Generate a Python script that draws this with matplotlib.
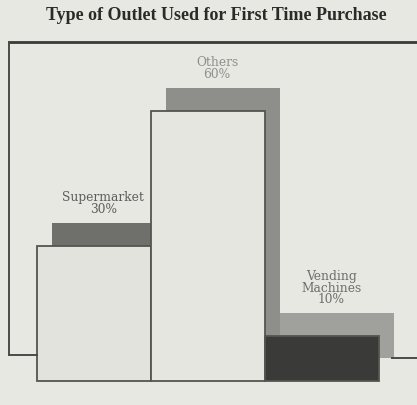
import matplotlib.pyplot as plt
from matplotlib.lines import Line2D

categories = ['Supermarket', 'Others', 'Vending\nMachines']
shares = [30, 60, 10]

front_colors = ['#e3e3dd', '#e6e6e0', '#3a3a38']
back_colors = ['#6f6f6b', '#8e8e8a', '#a0a09c']
label_colors = ['#5e5e5c', '#8e8e8c', '#6e6e6c']

BG = '#e8e8e2'
DX, DY = 0.13, 5.0   # offset of the raised back face

fig = plt.figure(figsize=(4.17, 4.05), dpi=100, facecolor=BG)
ax = fig.add_axes([0, 0, 1, 1])
ax.set_facecolor(BG)
ax.set_xlim(-0.825, 2.833)
ax.set_ylim(-5.4, 84.6)
ax.axis('off')

# frame around the plot area (open on the right)
fw = dict(color='#4a4a48', lw=1.4, transform=fig.transFigure)
fig.add_artist(Line2D([9/417, 1.0], [1-42/405, 1-42/405], lw=2.0, color='#3a3a38', transform=fig.transFigure))
fig.add_artist(Line2D([9/417, 9/417], [1-42/405, 1-355/405], **fw))
fig.add_artist(Line2D([9/417, 37/417], [1-355/405, 1-355/405], **fw))
fig.add_artist(Line2D([392/417, 1.0], [1-358/405, 1-358/405], **fw))

x = range(len(categories))
# back faces first (shifted up and right), then the front bars over them
ax.bar([i + DX for i in x], shares, width=1.0, bottom=DY,
       color=back_colors, edgecolor='none', zorder=1)
ax.bar(x, shares, width=1.0, color=front_colors, edgecolor='#55554f', lw=1.3, zorder=2)

for i, (name, s) in enumerate(zip(categories, shares)):
    ax.text(i + 0.08, s + DY + 1.6, f'{name}\n{s}%', ha='center', va='bottom',
            fontsize=8.8, family='DejaVu Serif', color=label_colors[i],
            linespacing=0.85, zorder=3)

fig.text(216/417, 1 - 15/405, 'Type of Outlet Used for First Time Purchase',
         ha='center', va='center', fontsize=13, fontweight='bold',
         family='Liberation Serif', color='#2a2a28')

fig.savefig('out.png', dpi=100, facecolor=BG)
